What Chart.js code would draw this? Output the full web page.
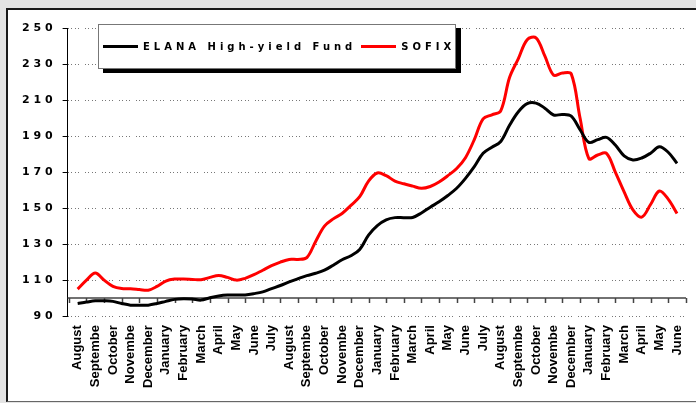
<!DOCTYPE html>
<html>
<head>
<meta charset="utf-8">
<script src="https://cdn.jsdelivr.net/npm/chart.js@4"></script>
<style>
  body { margin: 0; background: #e4e4e4; width: 696px; height: 403px; overflow: hidden; position: relative; }
  #frame { position: absolute; left: 6px; top: 8px; width: 688px; height: 391px; background: #fff;
           border-left: 2px solid #1a1a1a; border-top: 2px solid #1a1a1a; border-bottom: 1px solid #666; }
  #graph { position: absolute; left: 0; top: 0; }
  #legend { position: absolute; left: 98px; top: 24px; width: 358px; height: 45px; background: #fff;
            border: 1px solid #777; box-shadow: 5px 4px 0 #000; font: bold 10px "DejaVu Sans", Verdana, sans-serif;
            letter-spacing: 4px; display: flex; align-items: center; padding-left: 4px; box-sizing: border-box; }
  #legend .item { display: flex; align-items: center; margin-right: 5px; white-space: nowrap; }
  #legend .swatch { width: 35px; height: 3px; margin-right: 5px; }
</style>
</head>
<body>
<div id="frame"></div>
<canvas id="graph" width="696" height="403"></canvas>
<div id="legend"></div>
<script>
const months = ['August', 'Septembe', 'October', 'Novembe', 'December',
    'January', 'February', 'March', 'April', 'May', 'June', 'July', 'August', 'Septembe', 'October', 'Novembe', 'December',
    'January', 'February', 'March', 'April', 'May', 'June', 'July', 'August', 'Septembe', 'October', 'Novembe', 'December',
    'January', 'February', 'March', 'April', 'May', 'June'];

// twice a month
const elana = [97, 97.8, 98.5, 98.5, 98.2, 97, 96.1, 96, 96.1, 97,
    98.2, 99.3, 99.7, 99.5, 98.9, 100.2, 101.2, 101.7, 101.7, 101.8,
    102.5, 103.5, 105.3, 107, 109, 110.8, 112.5, 113.8, 115.5, 118.3,
    121.3, 123.5, 127, 135, 140.3, 143.5, 144.7, 144.7, 144.8, 147.3,
    150.5, 153.5, 157, 161, 166.5, 173, 180.4, 183.8, 187, 196,
    203.5, 208, 208.3, 205.5, 201.7, 202, 201, 193.5, 186.5, 188,
    189.3, 185, 179, 176.7, 177.8, 180.5, 184, 181, 174.8];

const sofix = [105, 110, 114, 110, 106.5, 105.3, 105.2, 104.8, 104.4, 106.5,
    109.5, 110.6, 110.6, 110.4, 110.2, 111.5, 112.6, 111.5, 110, 111,
    113, 115.5, 118, 120, 121.5, 121.5, 122.5, 131.5, 140, 144,
    147, 151.5, 156.3, 165, 169.5, 168, 165, 163.5, 162.2, 161,
    162, 164.5, 168, 172, 178, 188, 199.5, 201.8, 204, 222.5,
    233, 243.5, 244.5, 234.5, 223.8, 225, 224.5, 200, 177.5, 179.5,
    180.4, 170, 159, 149, 145, 152, 159.5, 155, 147];

const yMin = 90, yMax = 250, yStep = 20;
const seriesNames = ['ELANA High-yield Fund', 'SOFIX'];
const seriesColors = ['#000000', '#ff0000'];

const toPoints = arr => arr.map((v, i) => ({ x: i / 2, y: v }));

// x axis line sits at 100 with tick marks between the months
const axisAt100 = {
    id: 'axisAt100',
    beforeDatasetsDraw(chart) {
        const { ctx, chartArea, scales } = chart;
        const y = scales.y.getPixelForValue(100);
        ctx.save();
        ctx.strokeStyle = '#444';
        ctx.lineWidth = 1.5;
        ctx.beginPath();
        ctx.moveTo(chartArea.left, y);
        ctx.lineTo(chartArea.right, y);
        for (let i = 0; i <= months.length; i++) {
            const x = Math.round(scales.x.getPixelForValue(i - 0.5)) + 0.5;
            ctx.moveTo(x, y);
            ctx.lineTo(x, y + 5);
        }
        ctx.stroke();
        ctx.restore();
    }
};

const graph = document.getElementById('graph');

const chart = new Chart(graph, {
    type: 'line',
    data: {
        datasets: [{
            label: seriesNames[0],
            data: toPoints(elana),
            borderColor: seriesColors[0],
            borderWidth: 3,
            pointRadius: 0,
            tension: 0.35
        }, {
            label: seriesNames[1],
            data: toPoints(sofix),
            borderColor: seriesColors[1],
            borderWidth: 3,
            pointRadius: 0,
            tension: 0.35
        }]
    },
    options: {
        responsive: false,
        animation: false,
        layout: { padding: { top: 28, right: 10, left: 12, bottom: 6 } },
        scales: {
            x: {
                type: 'linear',
                min: -0.57,
                max: 34.51,
                afterBuildTicks: axis => { axis.ticks = months.map((m, i) => ({ value: i })); },
                afterFit: axis => { axis.paddingRight = 0; },
                grid: { display: false, drawTicks: false },
                border: { display: false },
                ticks: {
                    autoSkip: false,
                    minRotation: 90,
                    maxRotation: 90,
                    padding: 9,
                    color: '#000',
                    font: { family: 'Liberation Sans', size: 13, weight: 'bold' },
                    callback: v => months[v] || ''
                }
            },
            y: {
                min: yMin,
                max: yMax,
                grid: { color: '#777', tickColor: '#000', tickLength: 5, lineWidth: 1 },
                border: { color: '#000', width: 1, dash: [1, 2, 1, 3, 1, 2, 1, 6] },
                ticks: {
                    stepSize: yStep,
                    padding: 10,
                    color: '#000',
                    font: { family: 'DejaVu Sans', size: 11, weight: 'bold' },
                    callback: v => String(v).split('').join(' ')
                }
            }
        },
        plugins: {
            legend: { display: false },
            tooltip: { enabled: false }
        }
    },
    plugins: [axisAt100]
});

const legend = document.getElementById('legend');
chart.data.datasets.forEach(ds => {
    const item = document.createElement('div');
    item.className = 'item';
    item.innerHTML = '<span class="swatch" style="background:' + ds.borderColor + '"></span>' + ds.label;
    legend.appendChild(item);
});
</script>
</body>
</html>
